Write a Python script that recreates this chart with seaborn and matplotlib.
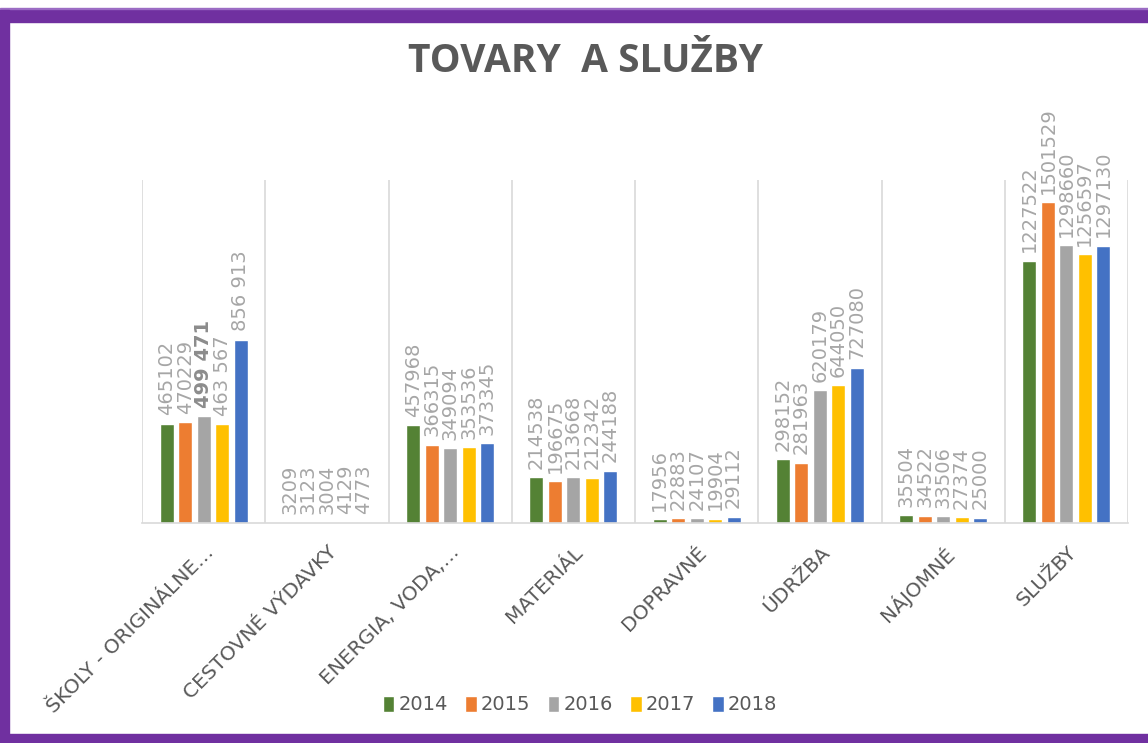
import pandas as pd
import seaborn as sns
import matplotlib.pyplot as plt
from matplotlib.patches import Rectangle

# Data
categories = ['ŠKOLY - ORIGINÁLNE…', 'CESTOVNÉ VÝDAVKY', 'ENERGIA, VODA,…', 'MATERIÁL',
              'DOPRAVNÉ', 'ÚDRŽBA', 'NÁJOMNÉ', 'SLUŽBY']
years = ['2014', '2015', '2016', '2017', '2018']
v2014 = [465102, 3209, 457968, 214538, 17956, 298152, 35504, 1227522]
v2015 = [470229, 3123, 366315, 196675, 22883, 281963, 34522, 1501529]
v2016 = [499471, 3004, 349094, 213668, 24107, 620179, 33506, 1298660]
v2017 = [463567, 4129, 353536, 212342, 19904, 644050, 27374, 1256597]
v2018 = [856913, 4773, 373345, 244188, 29112, 727080, 25000, 1297130]
# a few labels in the original are written with a thousands space
label_override = {('2016', 0): '499 471', ('2017', 0): '463 567', ('2018', 0): '856 913'}

colors = ['#548235', '#ED7D31', '#A5A5A5', '#FFC000', '#4472C4']

series = [v2014, v2015, v2016, v2017, v2018]
rows = []
for yr, vals in zip(years, series):
    for cat, v in zip(categories, vals):
        rows.append({'category': cat, 'year': yr, 'value': v})
df = pd.DataFrame(rows)

sns.set_style('white')
plt.rcParams['font.family'] = ['DejaVu Sans']

fig = plt.figure(figsize=(11.48, 7.43), dpi=100)
ax = fig.add_axes([142 / 1148, 220 / 743, 986 / 1148, 343 / 743])

sns.barplot(data=df, x='category', y='value', hue='year', palette=colors,
            order=categories, hue_order=years, width=0.75, gap=0.25,
            saturation=1, ax=ax)

ax.set_ylim(0, 1.604e6)
ax.set_xlim(-0.5, len(categories) - 0.5)
ax.set_yticks([])
ax.set_xlabel('')
ax.set_ylabel('')
for s in ['top', 'right', 'left']:
    ax.spines[s].set_visible(False)
ax.spines['bottom'].set_color('#d9d9d9')
ax.spines['bottom'].set_linewidth(1.2)

# category separators
for i in range(len(categories) + 1):
    ax.axvline(i - 0.5, color='#d9d9d9', lw=1.2, zorder=0)

# value labels
for yr, cont, vals in zip(years, ax.containers, series):
    labs = [label_override.get((yr, i), str(v)) for i, v in enumerate(vals)]
    texts = ax.bar_label(cont, labels=labs, rotation=90, padding=6,
                         color='#a6a6a6', fontsize=14)
    for t in texts:
        t.set_clip_on(False)
        if t.get_text() == '499 471':
            t.set_color('#8c8c8c')
            t.set_fontweight('bold')

ax.tick_params(axis='x', length=0, pad=14)
ax.set_xticks(range(len(categories)))
ax.set_xticklabels(categories, rotation=45, ha='right', rotation_mode='anchor',
                   fontsize=14.5, color='#595959')

handles, labels = ax.get_legend_handles_labels()
ax.get_legend().remove()
fig.legend(handles, labels, loc='center', bbox_to_anchor=(580 / 1148, 1 - 705 / 743),
           ncol=5, frameon=False, fontsize=14, handlelength=0.6, handleheight=0.9,
           handletextpad=0.2, columnspacing=0.9, labelcolor='#595959')

fig.text(585 / 1148, 1 - 62 / 743, 'TOVARY  A SLUŽBY', ha='center', va='center',
         fontsize=28, fontweight='bold', color='#595959', family='Open Sans')

# purple frame around the chart
purple = '#7030A0'
fig.patches.append(Rectangle((0, 1 - 22 / 743), 1, 12 / 743, transform=fig.transFigure,
                             color=purple, zorder=5))
fig.patches.append(Rectangle((0, 1 - 9 / 743), 1, 1.2 / 743, transform=fig.transFigure,
                             color='#9b6cc4', zorder=5))
fig.patches.append(Rectangle((0, 0), 9 / 1148, 1 - 10 / 743, transform=fig.transFigure,
                             color=purple, zorder=5))
fig.patches.append(Rectangle((0, 0), 1, 9 / 743, transform=fig.transFigure,
                             color=purple, zorder=5))

plt.savefig('out.png', dpi=100)
